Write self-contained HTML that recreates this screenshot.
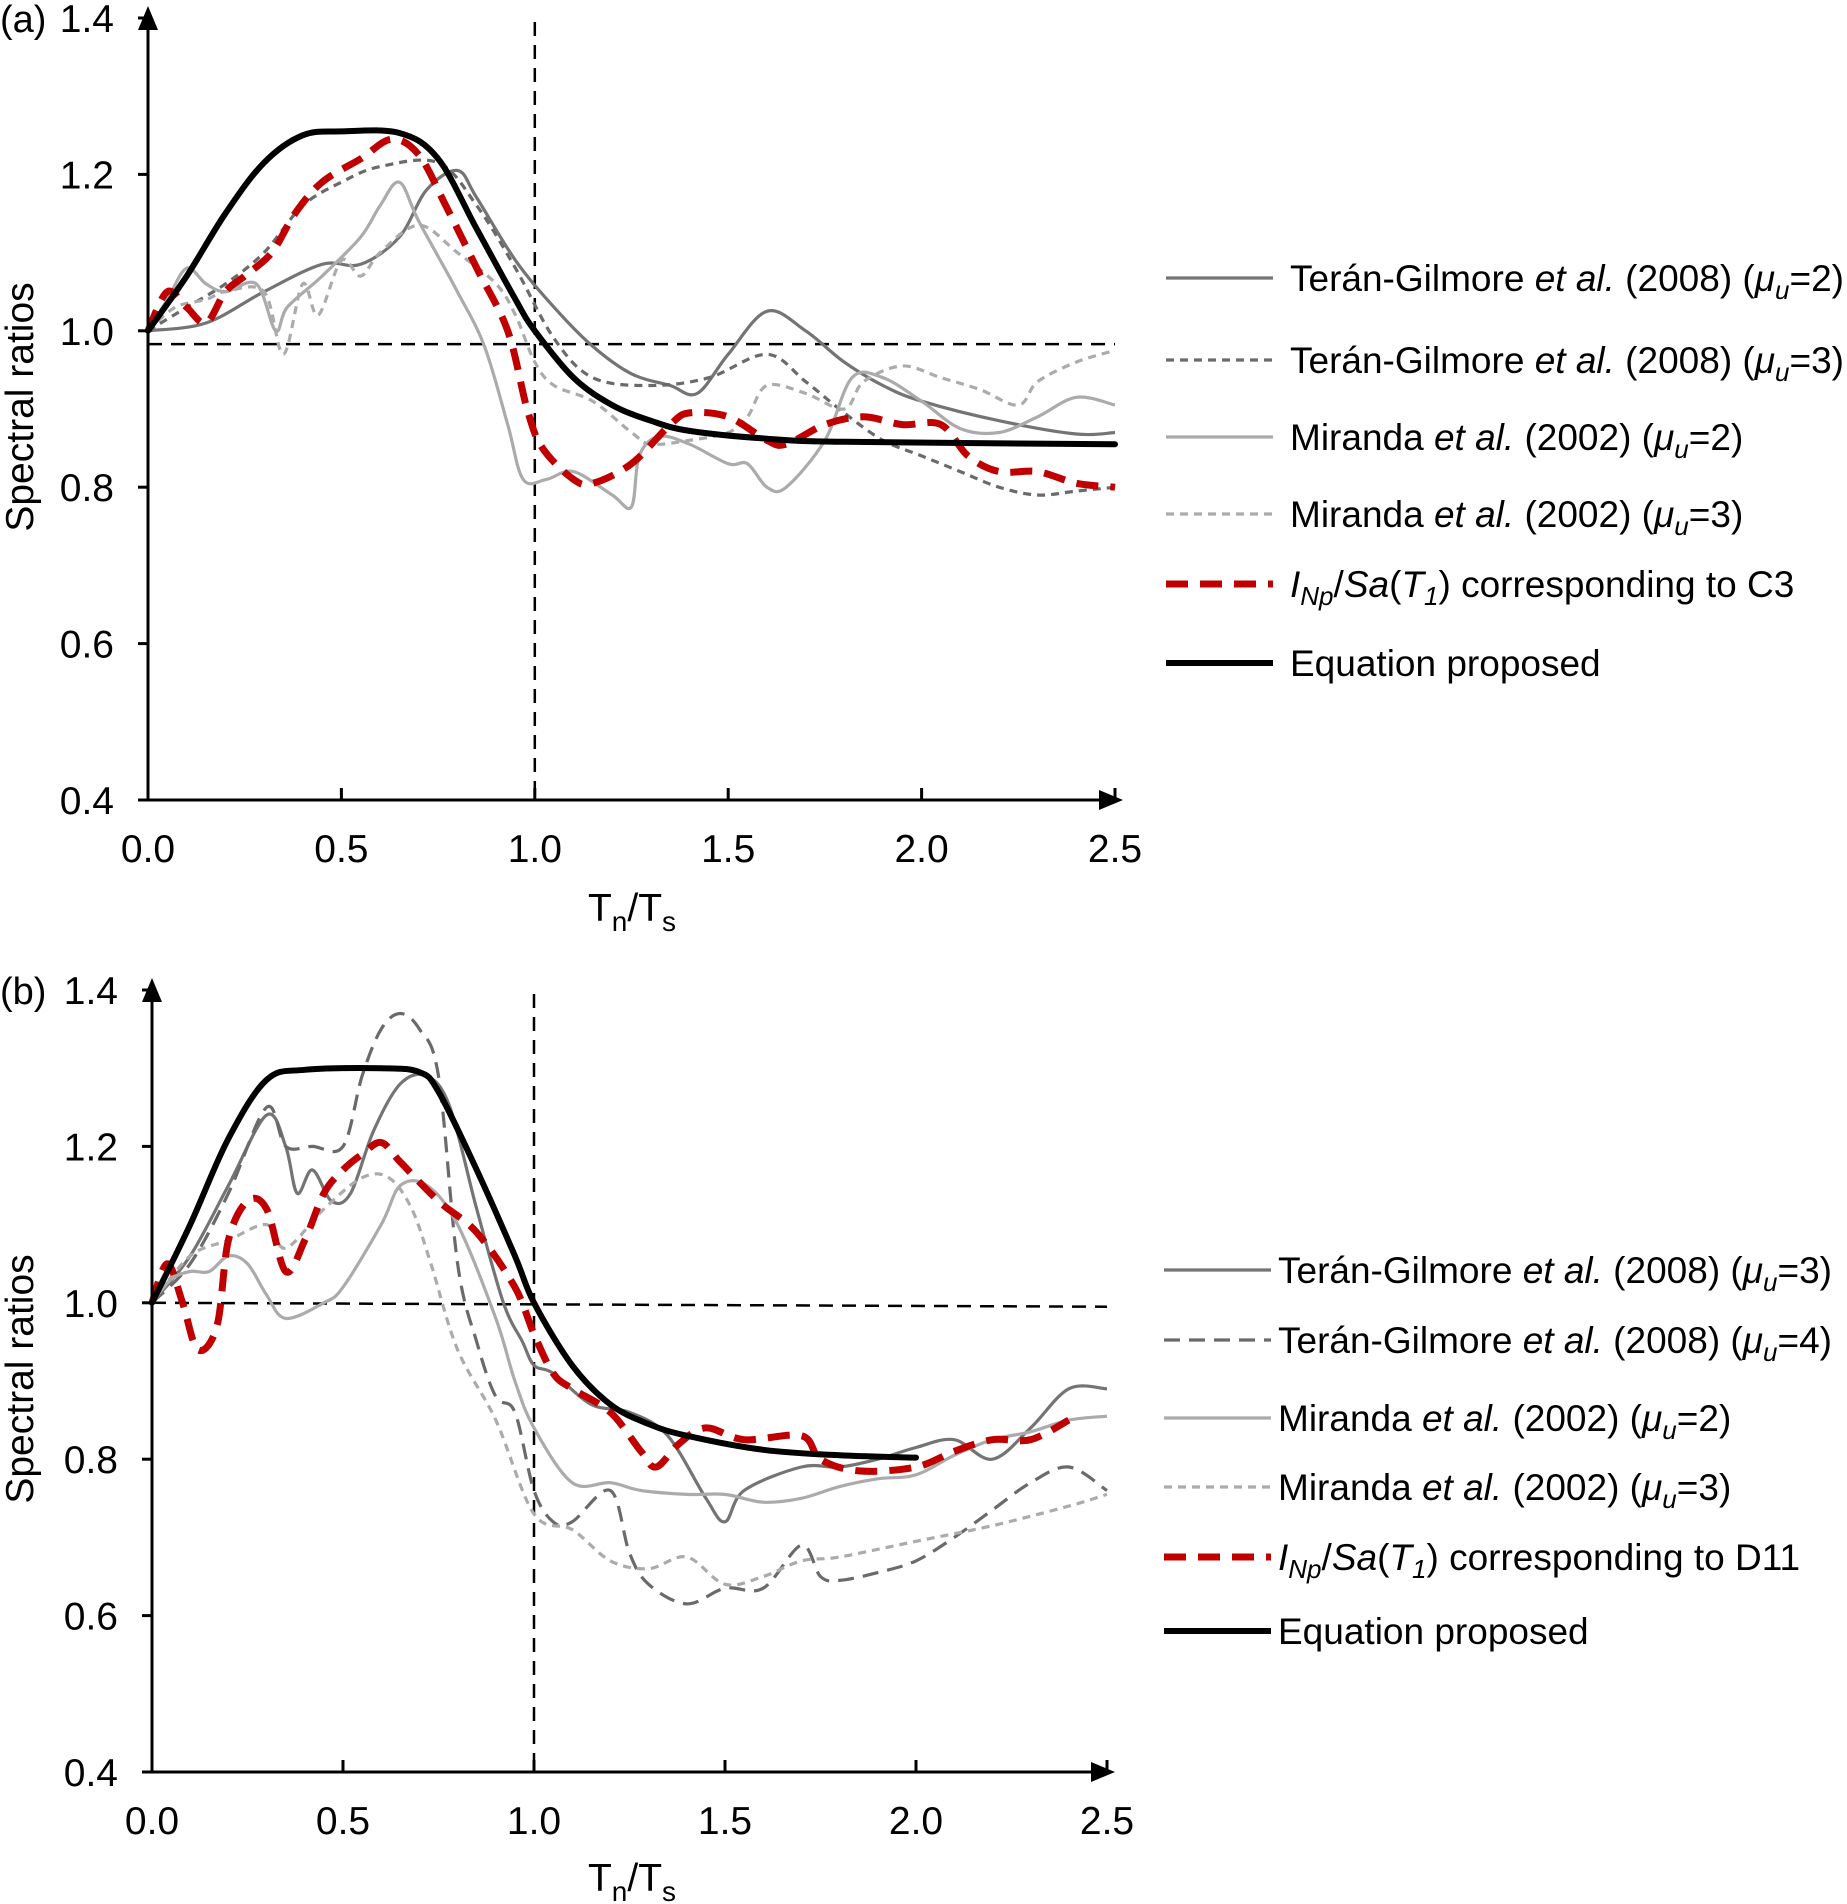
<!DOCTYPE html>
<html><head><meta charset="utf-8">
<style>
body{margin:0;background:#fff;}
svg{display:block;font-family:"Liberation Sans",Arial,sans-serif;}
</style></head>
<body>
<svg id="fig" width="1847" height="1904" viewBox="0 0 1847 1904">
<defs>
<marker id="arr" markerWidth="24" markerHeight="20" refX="20" refY="10" orient="auto" markerUnits="userSpaceOnUse">
<path d="M0,0 L24,10 L0,20 z" fill="#000"/></marker>
</defs>
</svg>
<script>
// ---------- Panel (a) data ----------
const xTicks = [0,0.5,1.0,1.5,2.0,2.5];
const xTickLabels = ["0.0","0.5","1.0","1.5","2.0","2.5"];
const yTicks = [0.4,0.6,0.8,1.0,1.2,1.4];
const yTickLabels = ["0.4","0.6","0.8","1.0","1.2","1.4"];

const aEqX=[0,0.1,0.2,0.3,0.4,0.5,0.65,0.75,0.85,0.95,1.0,1.1,1.2,1.3,1.4,1.6,1.8,2.5];
const aEqY=[1.0,1.07,1.15,1.215,1.25,1.255,1.253,1.22,1.13,1.04,1.0,0.94,0.905,0.885,0.872,0.862,0.858,0.855];
const aRedX=[0,0.05,0.1,0.15,0.2,0.25,0.32,0.38,0.45,0.55,0.63,0.7,0.77,0.85,0.93,0.98,1.02,1.1,1.15,1.25,1.35,1.4,1.5,1.6,1.65,1.75,1.85,1.95,2.05,2.12,2.2,2.3,2.4,2.5];
const aRedY=[1.0,1.05,1.03,1.01,1.05,1.07,1.1,1.15,1.19,1.22,1.245,1.225,1.16,1.08,1.0,0.9,0.85,0.81,0.805,0.83,0.88,0.895,0.89,0.86,0.855,0.88,0.89,0.88,0.88,0.84,0.82,0.82,0.805,0.80];
const aT2X=[0,0.15,0.3,0.45,0.55,0.65,0.72,0.8,0.85,0.95,1.05,1.15,1.25,1.35,1.42,1.5,1.6,1.7,1.8,1.9,2.0,2.2,2.4,2.5];
const aT2Y=[1.0,1.01,1.05,1.085,1.085,1.12,1.18,1.205,1.17,1.09,1.03,0.98,0.945,0.93,0.92,0.97,1.025,1.0,0.96,0.93,0.91,0.885,0.868,0.87];
const aT3X=[0,0.1,0.2,0.3,0.4,0.5,0.6,0.75,0.85,0.95,1.05,1.15,1.3,1.45,1.6,1.7,1.8,1.9,2.0,2.1,2.2,2.3,2.4,2.5];
const aT3Y=[1.0,1.03,1.06,1.1,1.16,1.19,1.21,1.215,1.16,1.08,0.99,0.94,0.93,0.94,0.97,0.935,0.895,0.86,0.84,0.82,0.80,0.79,0.795,0.80];
const aM2X=[0,0.05,0.1,0.15,0.2,0.28,0.33,0.36,0.45,0.55,0.6,0.65,0.7,0.8,0.87,0.93,0.97,1.03,1.1,1.2,1.25,1.27,1.32,1.4,1.5,1.55,1.6,1.65,1.75,1.82,1.9,2.0,2.1,2.2,2.3,2.4,2.5];
const aM2Y=[1.0,1.04,1.08,1.06,1.05,1.06,1.0,1.03,1.07,1.12,1.16,1.19,1.14,1.05,0.98,0.88,0.81,0.81,0.82,0.79,0.775,0.84,0.865,0.855,0.83,0.83,0.80,0.80,0.86,0.94,0.94,0.91,0.875,0.87,0.89,0.915,0.905];
const aM3X=[0,0.07,0.15,0.2,0.3,0.35,0.4,0.44,0.5,0.55,0.6,0.7,0.8,0.9,0.95,1.0,1.05,1.15,1.25,1.3,1.4,1.5,1.55,1.6,1.7,1.8,1.85,1.95,2.05,2.15,2.25,2.3,2.4,2.5];
const aM3Y=[1.0,1.03,1.04,1.05,1.05,0.97,1.06,1.02,1.09,1.07,1.1,1.135,1.1,1.06,1.02,0.96,0.93,0.91,0.87,0.855,0.86,0.87,0.89,0.93,0.92,0.9,0.935,0.955,0.94,0.925,0.905,0.935,0.96,0.975];

// ---------- Panel (b) data ----------
const bEqX=[0,0.1,0.2,0.3,0.4,0.6,0.7,0.75,0.85,0.95,1.0,1.1,1.2,1.3,1.4,1.6,1.8,2.0];
const bEqY=[1.0,1.1,1.21,1.285,1.298,1.3,1.295,1.27,1.17,1.06,1.0,0.92,0.87,0.845,0.83,0.812,0.805,0.802];
const bRedX=[0,0.04,0.08,0.12,0.17,0.2,0.25,0.3,0.35,0.4,0.45,0.5,0.55,0.6,0.65,0.75,0.85,0.95,1.0,1.05,1.1,1.2,1.28,1.32,1.38,1.45,1.55,1.7,1.75,1.85,2.0,2.1,2.2,2.3,2.4];
const bRedY=[1.0,1.05,1.0,0.94,0.97,1.08,1.13,1.12,1.04,1.08,1.14,1.17,1.19,1.205,1.18,1.13,1.09,1.02,0.96,0.91,0.89,0.86,0.81,0.79,0.82,0.84,0.825,0.83,0.8,0.785,0.79,0.81,0.825,0.825,0.85];
const bT3X=[0,0.1,0.2,0.3,0.35,0.38,0.42,0.47,0.52,0.58,0.65,0.72,0.78,0.85,0.92,0.97,1.0,1.05,1.15,1.25,1.35,1.45,1.5,1.55,1.7,1.8,1.9,2.0,2.1,2.2,2.3,2.4,2.5];
const bT3Y=[1.0,1.06,1.15,1.24,1.2,1.14,1.17,1.13,1.14,1.22,1.28,1.29,1.25,1.12,1.0,0.95,0.92,0.91,0.87,0.86,0.83,0.75,0.72,0.76,0.79,0.79,0.8,0.815,0.825,0.8,0.84,0.89,0.89];
const bT4X=[0,0.1,0.2,0.3,0.35,0.42,0.5,0.55,0.6,0.65,0.7,0.75,0.8,0.85,0.9,0.95,1.0,1.05,1.1,1.2,1.25,1.3,1.4,1.5,1.6,1.7,1.75,1.8,1.9,2.0,2.1,2.2,2.3,2.4,2.5];
const bT4Y=[1.0,1.05,1.14,1.25,1.2,1.2,1.2,1.29,1.35,1.37,1.35,1.29,1.05,0.95,0.88,0.86,0.76,0.72,0.72,0.76,0.68,0.64,0.615,0.635,0.635,0.69,0.65,0.645,0.655,0.67,0.7,0.735,0.77,0.79,0.76];
const bM2X=[0,0.05,0.1,0.15,0.2,0.25,0.3,0.35,0.45,0.5,0.6,0.65,0.72,0.8,0.9,0.95,1.0,1.1,1.2,1.28,1.4,1.5,1.6,1.7,1.8,1.9,2.0,2.1,2.2,2.3,2.4,2.5];
const bM2Y=[1.0,1.03,1.04,1.04,1.06,1.05,1.01,0.98,1.0,1.02,1.1,1.15,1.15,1.1,0.98,0.9,0.84,0.77,0.77,0.76,0.755,0.755,0.745,0.75,0.765,0.775,0.78,0.805,0.825,0.835,0.85,0.855];
const bM3X=[0,0.1,0.2,0.3,0.35,0.45,0.55,0.62,0.68,0.73,0.8,0.9,1.0,1.1,1.2,1.3,1.4,1.5,1.6,1.7,1.8,2.0,2.2,2.4,2.5];
const bM3Y=[1.0,1.06,1.08,1.1,1.07,1.12,1.16,1.16,1.12,1.05,0.94,0.85,0.73,0.71,0.67,0.66,0.675,0.64,0.65,0.67,0.675,0.695,0.715,0.74,0.755];

const NS="http://www.w3.org/2000/svg";
const svg=document.getElementById('fig');
function mk(tag,attrs,parent){const e=document.createElementNS(NS,tag);for(const k in attrs)e.setAttribute(k,attrs[k]);(parent||svg).appendChild(e);return e;}
function smooth(pts){
  let d="M"+pts[0][0].toFixed(1)+","+pts[0][1].toFixed(1);
  for(let i=0;i<pts.length-1;i++){
    const p0=pts[Math.max(i-1,0)],p1=pts[i],p2=pts[i+1],p3=pts[Math.min(i+2,pts.length-1)];
    const c1=[p1[0]+(p2[0]-p0[0])/6,p1[1]+(p2[1]-p0[1])/6];
    const c2=[p2[0]-(p3[0]-p1[0])/6,p2[1]-(p3[1]-p1[1])/6];
    d+=" C"+c1[0].toFixed(1)+","+c1[1].toFixed(1)+" "+c2[0].toFixed(1)+","+c2[1].toFixed(1)+" "+p2[0].toFixed(1)+","+p2[1].toFixed(1);
  }
  return d;
}

function panel(cfg){
  const g=mk('g',{});
  
  
  const X=v=>cfg.x0+(v-0)/2.5*(cfg.x1-cfg.x0);
  const Y=v=>cfg.yb+(v-0.4)/1.0*(cfg.yt-cfg.yb);
  const hl=mk('line',{x1:X(0),y1:Y(cfg.refH),x2:X(2.5),y2:Y(cfg.refH2),stroke:'#000','stroke-width':2.5,'stroke-dasharray':'14,9'},g);
  
  
  const vl=mk('line',{x1:X(1.0)+cfg.vOff,y1:cfg.yt+4,x2:X(1.0)+cfg.vOff,y2:cfg.yb,stroke:'#000','stroke-width':2.5,'stroke-dasharray':'14,9'},g);
  
  
  cfg.series.forEach(s=>{
    const pts=s.x.map((v,i)=>[X(v),Y(s.y[i])]);
    const p=mk('path',{d:smooth(pts),fill:'none',stroke:s.color,'stroke-width':s.w,'stroke-dasharray':s.dash||'none','stroke-linejoin':'round','stroke-linecap':s.cap||'butt'},g);
    
    
  });
  const xa=mk('line',{x1:X(0),y1:cfg.yb,x2:X(2.5)+4,y2:cfg.yb,stroke:'#000','stroke-width':3,'marker-end':'url(#arr)'},g);
  
  
  const ya=mk('line',{x1:X(0),y1:cfg.yb,x2:X(0),y2:cfg.yt-8,stroke:'#000','stroke-width':3,'marker-end':'url(#arr)'},g);
  
  
  xTicks.forEach((v,i)=>{
    mk('line',{x1:X(v),y1:cfg.yb,x2:X(v),y2:cfg.yb-12,stroke:'#000','stroke-width':3},g);
    const t=mk('text',{x:X(v),y:cfg.yb+62,'font-size':39,'text-anchor':'middle'},g);
    t.textContent=xTickLabels[i];
    
    
  });
  yTicks.forEach((v,i)=>{
    mk('line',{x1:X(0),y1:Y(v),x2:X(0)-10,y2:Y(v),stroke:'#000','stroke-width':3},g);
    const t=mk('text',{x:X(0)-34,y:Y(v)+14,'font-size':39,'text-anchor':'end'},g);
    t.textContent=yTickLabels[i];
    
    
  });
  const pl=mk('text',{x:0,y:Y(1.4)+14,'font-size':38},g);
  pl.textContent=cfg.label;
  
  
  const yt=mk('text',{x:0,y:0,'font-size':39,'text-anchor':'middle',transform:'translate(33,'+cfg.yTitleY+') rotate(-90)'},g);
  yt.textContent='Spectral ratios';
  
  
  const xt=mk('text',{x:cfg.xTitleX,y:cfg.xTitleY,'font-size':39,'text-anchor':'middle'},g);
  xt.innerHTML='T<tspan font-size="28" dy="10">n</tspan><tspan dy="-10">/T</tspan><tspan font-size="28" dy="10">s</tspan>';
  
  
  cfg.legend.forEach((L,i)=>{
    const s=cfg.series[L.idx];
    const gy=cfg.legY[i];
    const lg=mk('g',{},g);
    
    
    mk('line',{x1:cfg.legX0,y1:gy,x2:cfg.legX1,y2:gy,stroke:s.color,'stroke-width':s.w,'stroke-dasharray':s.dash||'none'},lg);
    const t=mk('text',{x:cfg.legTx,y:gy+13,'font-size':37},lg);
    t.innerHTML=L.html;
  });
}
const mu=(n)=>'(<tspan font-style="italic">μ</tspan><tspan font-style="italic" font-size="26" dy="8">u</tspan><tspan dy="-8">='+n+')</tspan>';
const inp=(c)=>'<tspan font-style="italic">I</tspan><tspan font-style="italic" font-size="26" dy="8">Np</tspan><tspan dy="-8">/</tspan><tspan font-style="italic">Sa</tspan>(<tspan font-style="italic">T</tspan><tspan font-style="italic" font-size="26" dy="8">1</tspan><tspan dy="-8">) corresponding to '+c+'</tspan>';

panel({name:'chart-a',label:'(a)',x0:148,x1:1115,yt:18,yb:800,refH:0.983,refH2:0.983,vOff:0,yTitleY:407,xTitleX:632,xTitleY:921,
 series:[
  {id:'teran-mu2',x:aT2X,y:aT2Y,color:'#747474',w:3.2},
  {id:'teran-mu3',x:aT3X,y:aT3Y,color:'#6a6a6a',w:3.2,dash:'8,6'},
  {id:'miranda-mu2',x:aM2X,y:aM2Y,color:'#ababab',w:3.2},
  {id:'miranda-mu3',x:aM3X,y:aM3Y,color:'#ababab',w:3.2,dash:'8,6'},
  {id:'inp-c3',x:aRedX,y:aRedY,color:'#c00000',w:7,dash:'22,12'},
  {id:'equation-proposed',x:aEqX,y:aEqY,color:'#000',w:6,cap:'round'}],
 legX0:1166,legX1:1273,legTx:1290,legY:[278,360,437,514,584,663],
 legend:[
  {idx:0,html:'Terán-Gilmore <tspan font-style="italic">et al.</tspan> (2008) '+mu(2)},
  {idx:1,html:'Terán-Gilmore <tspan font-style="italic">et al.</tspan> (2008) '+mu(3)},
  {idx:2,html:'Miranda <tspan font-style="italic">et al.</tspan> (2002) '+mu(2)},
  {idx:3,html:'Miranda <tspan font-style="italic">et al.</tspan> (2002) '+mu(3)},
  {idx:4,html:inp('C3')},
  {idx:5,html:'Equation proposed'}]
});
panel({name:'chart-b',label:'(b)',x0:152,x1:1107,yt:990,yb:1772,refH:1.0,refH2:0.995,vOff:0,yTitleY:1379,xTitleX:632,xTitleY:1891,
 series:[
  {id:'teran-mu3-b',x:bT3X,y:bT3Y,color:'#747474',w:3.2},
  {id:'teran-mu4-b',x:bT4X,y:bT4Y,color:'#6a6a6a',w:3.2,dash:'16,9'},
  {id:'miranda-mu2-b',x:bM2X,y:bM2Y,color:'#ababab',w:3.2},
  {id:'miranda-mu3-b',x:bM3X,y:bM3Y,color:'#ababab',w:3.2,dash:'8,6'},
  {id:'inp-d11',x:bRedX,y:bRedY,color:'#c00000',w:7,dash:'22,12'},
  {id:'equation-proposed-b',x:bEqX,y:bEqY,color:'#000',w:6,cap:'round'}],
 legX0:1164,legX1:1271,legTx:1278,legY:[1270,1340,1418,1487,1557,1631],
 legend:[
  {idx:0,html:'Terán-Gilmore <tspan font-style="italic">et al.</tspan> (2008) '+mu(3)},
  {idx:1,html:'Terán-Gilmore <tspan font-style="italic">et al.</tspan> (2008) '+mu(4)},
  {idx:2,html:'Miranda <tspan font-style="italic">et al.</tspan> (2002) '+mu(2)},
  {idx:3,html:'Miranda <tspan font-style="italic">et al.</tspan> (2002) '+mu(3)},
  {idx:4,html:inp('D11')},
  {idx:5,html:'Equation proposed'}]
});
</script>
</body></html>
